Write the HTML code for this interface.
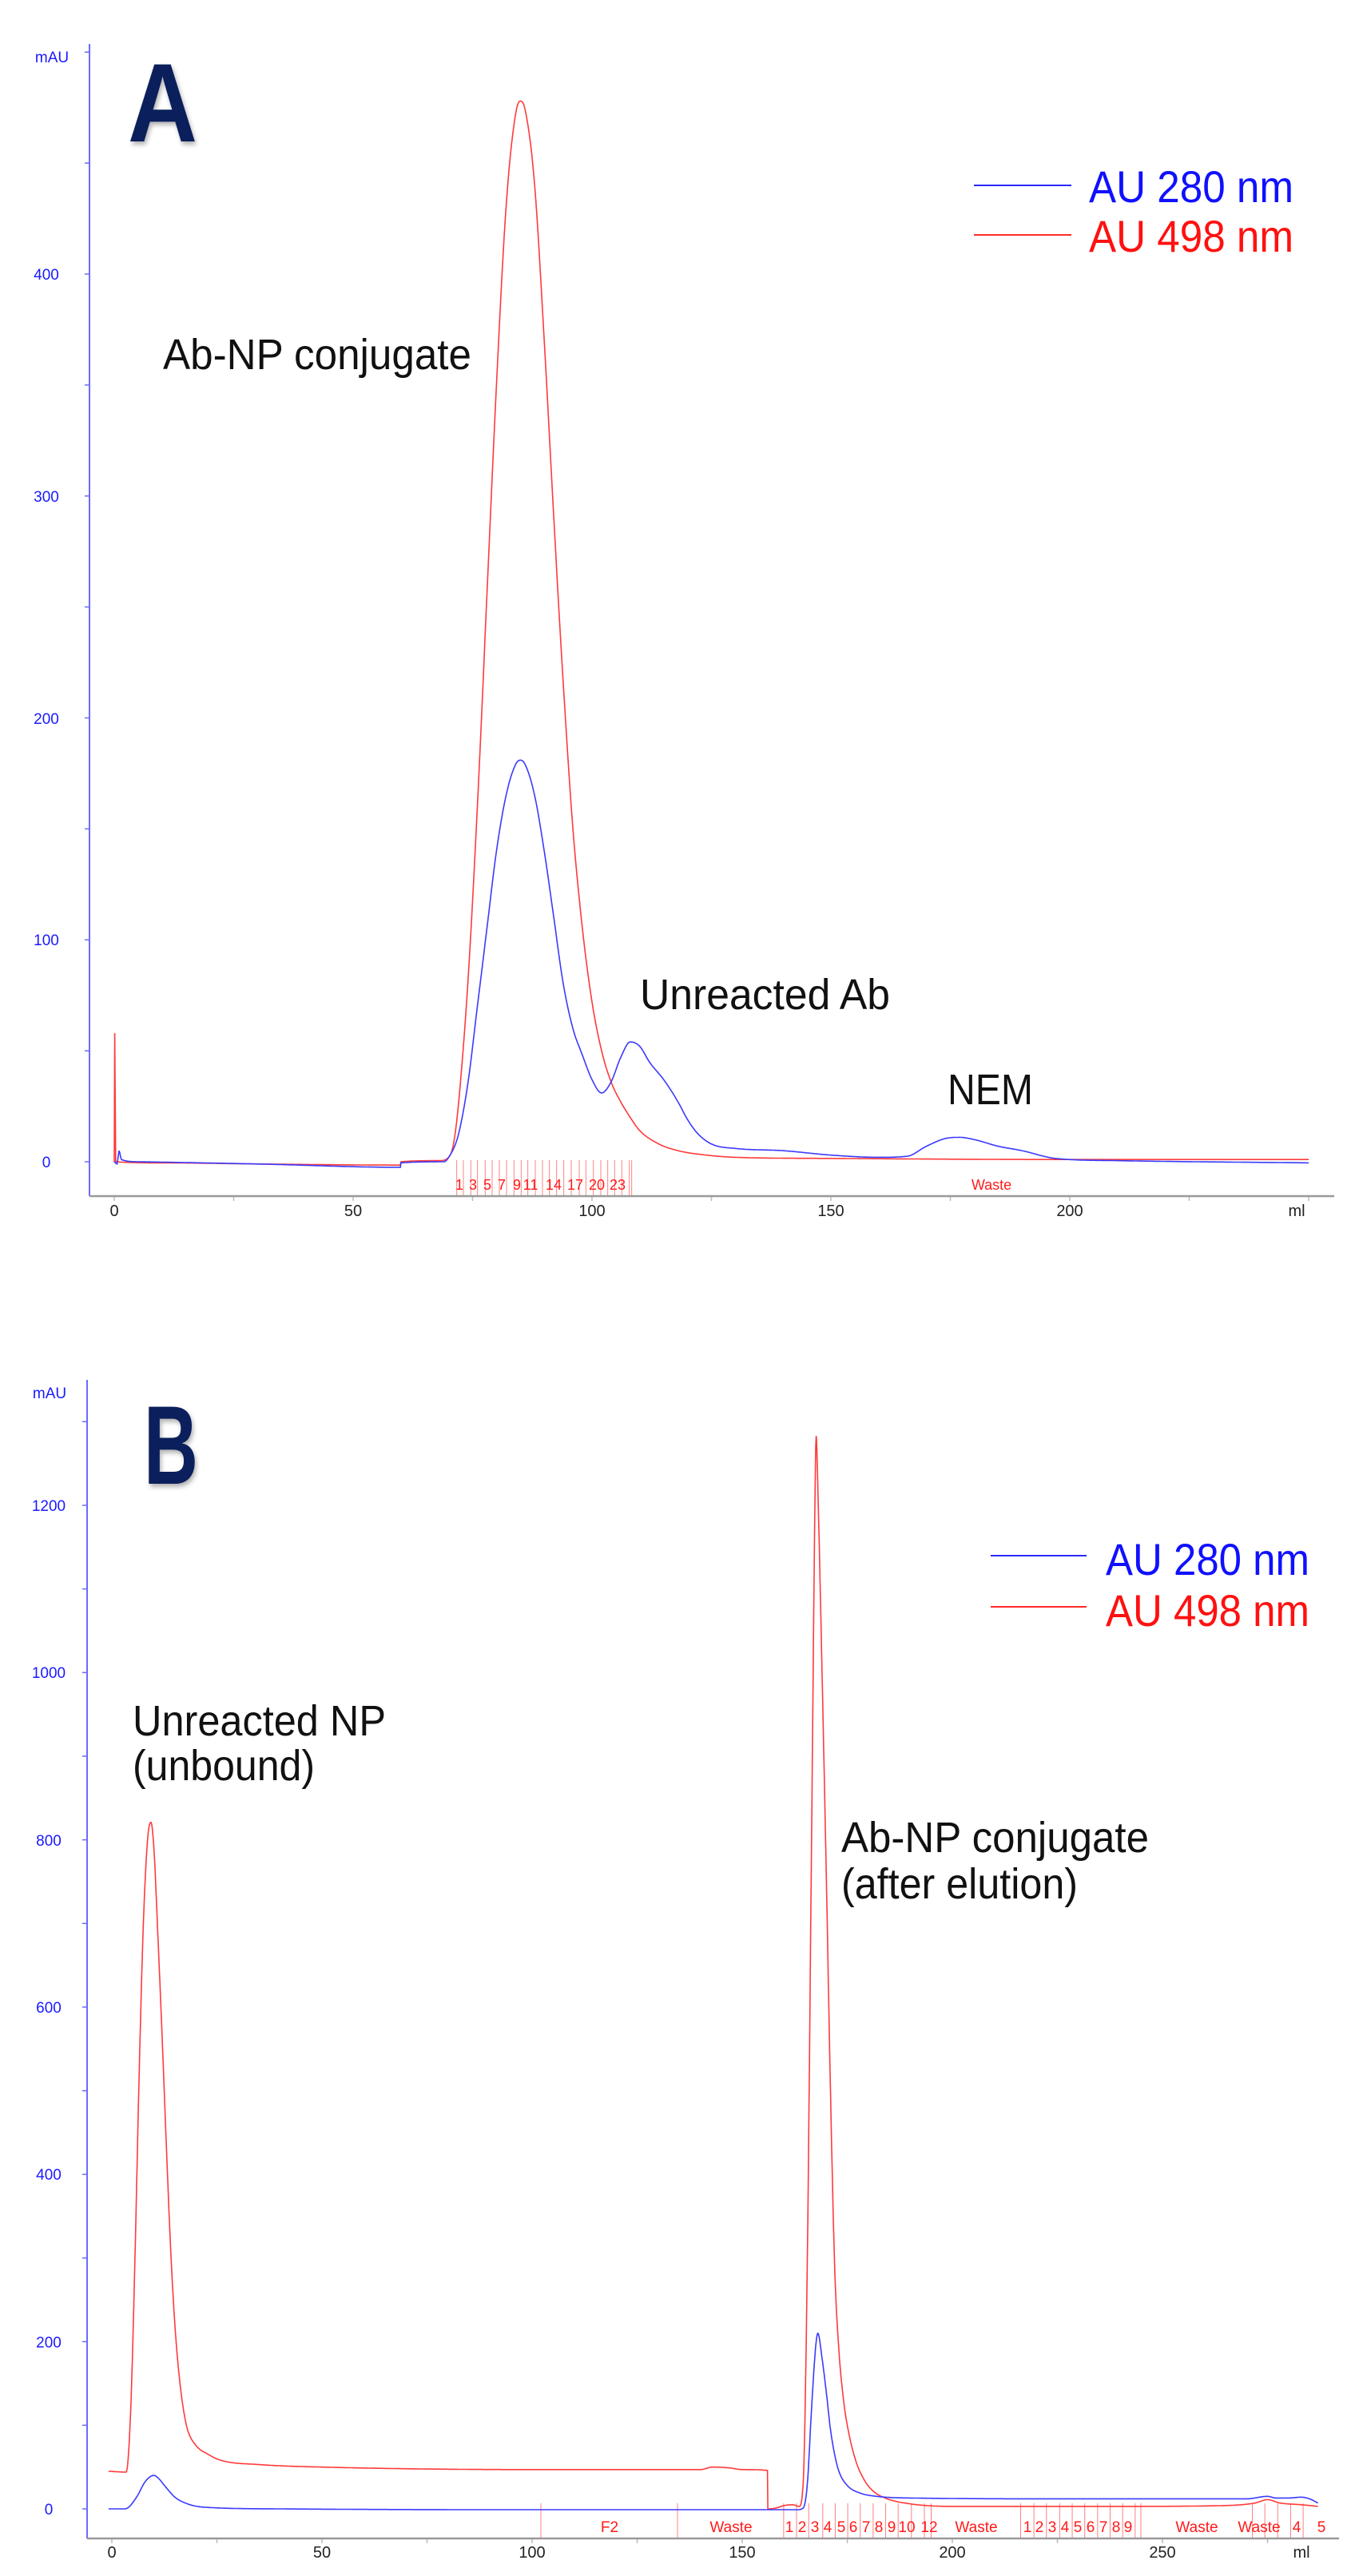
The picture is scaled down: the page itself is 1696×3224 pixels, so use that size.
<!DOCTYPE html>
<html><head><meta charset="utf-8">
<style>
html,body{margin:0;padding:0;background:#fff;}
svg{display:block;font-family:"Liberation Sans",Arial,sans-serif;}
</style></head>
<body>
<svg id="s" width="1696" height="3224" viewBox="0 0 1696 3224" xmlns="http://www.w3.org/2000/svg">
<rect width="1696" height="3224" fill="#fff"/>
<g id="g"></g>
<!-- Chart A static -->
<line x1="112" y1="55" x2="112" y2="1497" stroke="#6a6aff" stroke-width="2"/>
<line x1="112" y1="1497" x2="1670" y2="1497" stroke="#999" stroke-width="2.5"/>
<g fill="#1a1aff" font-size="19" text-anchor="middle">
<text x="65" y="78">mAU</text>
<text x="58" y="1461">0</text>
<text x="58" y="1183">100</text>
<text x="58" y="906">200</text>
<text x="58" y="628">300</text>
<text x="58" y="350">400</text>
</g>
<g fill="#222" font-size="20" text-anchor="middle">
<text x="143" y="1522">0</text>
<text x="442" y="1522">50</text>
<text x="741" y="1522">100</text>
<text x="1040" y="1522">150</text>
<text x="1339" y="1522">200</text>
<text x="1623" y="1522">ml</text>
</g>
<text x="160" y="177" font-size="140" font-weight="bold" fill="#0b1f5c" textLength="87" lengthAdjust="spacingAndGlyphs" style="filter:drop-shadow(2px 4px 3px rgba(0,0,0,0.3))">A</text>
<line x1="1219" y1="232" x2="1341" y2="232" stroke="#2a2aff" stroke-width="2"/>
<line x1="1219" y1="294" x2="1341" y2="294" stroke="#ff2a2a" stroke-width="2"/>
<text x="1363" y="253" font-size="56" fill="#1010ff" textLength="256" lengthAdjust="spacingAndGlyphs">AU 280 nm</text>
<text x="1363" y="315" font-size="56" fill="#ff1010" textLength="256" lengthAdjust="spacingAndGlyphs">AU 498 nm</text>
<g fill="#111" font-size="54">
<text x="204" y="462" textLength="386" lengthAdjust="spacingAndGlyphs">Ab-NP conjugate</text>
<text x="801" y="1263" textLength="313" lengthAdjust="spacingAndGlyphs">Unreacted Ab</text>
<text x="1186" y="1382" textLength="107" lengthAdjust="spacingAndGlyphs">NEM</text>
</g>
<g fill="#ff1a1a" font-size="18" text-anchor="middle">
<text x="575" y="1489">1</text><text x="592" y="1489">3</text><text x="610" y="1489">5</text>
<text x="628" y="1489">7</text><text x="647" y="1489">9</text><text x="664" y="1489">11</text>
<text x="693" y="1489">14</text><text x="720" y="1489">17</text><text x="747" y="1489">20</text>
<text x="773" y="1489">23</text><text x="1241" y="1489">Waste</text>
</g>
<!-- Chart B static -->
<line x1="109" y1="1727" x2="109" y2="3177" stroke="#6a6aff" stroke-width="2"/>
<line x1="109" y1="3177" x2="1676" y2="3177" stroke="#999" stroke-width="2.5"/>
<g fill="#1a1aff" font-size="19" text-anchor="middle">
<text x="62" y="1750">mAU</text>
<text x="61" y="3147">0</text>
<text x="61" y="2938">200</text>
<text x="61" y="2728">400</text>
<text x="61" y="2519">600</text>
<text x="61" y="2310">800</text>
<text x="61" y="2100">1000</text>
<text x="61" y="1891">1200</text>
</g>
<g fill="#222" font-size="20" text-anchor="middle">
<text x="140" y="3201">0</text>
<text x="403" y="3201">50</text>
<text x="666" y="3201">100</text>
<text x="929" y="3201">150</text>
<text x="1192" y="3201">200</text>
<text x="1455" y="3201">250</text>
<text x="1629" y="3201">ml</text>
</g>
<text x="180" y="1857" font-size="140" font-weight="bold" fill="#0b1f5c" textLength="68" lengthAdjust="spacingAndGlyphs" style="filter:drop-shadow(2px 4px 3px rgba(0,0,0,0.3))">B</text>
<line x1="1240" y1="1947" x2="1360" y2="1947" stroke="#2a2aff" stroke-width="2"/>
<line x1="1240" y1="2011" x2="1360" y2="2011" stroke="#ff2a2a" stroke-width="2"/>
<text x="1384" y="1971" font-size="56" fill="#1010ff" textLength="255" lengthAdjust="spacingAndGlyphs">AU 280 nm</text>
<text x="1384" y="2035" font-size="56" fill="#ff1010" textLength="255" lengthAdjust="spacingAndGlyphs">AU 498 nm</text>
<g fill="#111" font-size="54">
<text x="166" y="2172" textLength="317" lengthAdjust="spacingAndGlyphs">Unreacted NP</text>
<text x="166" y="2228" textLength="228" lengthAdjust="spacingAndGlyphs">(unbound)</text>
<text x="1053" y="2318" textLength="385" lengthAdjust="spacingAndGlyphs">Ab-NP conjugate</text>
<text x="1053" y="2376" textLength="296" lengthAdjust="spacingAndGlyphs">(after elution)</text>
</g>
<g fill="#ff1a1a" font-size="19" text-anchor="middle">
<text x="763" y="3169">F2</text><text x="915" y="3169">Waste</text>
<text x="988" y="3169">1</text><text x="1004" y="3169">2</text><text x="1020" y="3169">3</text>
<text x="1036" y="3169">4</text><text x="1053" y="3169">5</text><text x="1068" y="3169">6</text>
<text x="1084" y="3169">7</text><text x="1100" y="3169">8</text><text x="1116" y="3169">9</text>
<text x="1135" y="3169">10</text><text x="1163" y="3169">12</text><text x="1222" y="3169">Waste</text>
<text x="1286" y="3169">1</text><text x="1301" y="3169">2</text><text x="1317" y="3169">3</text>
<text x="1333" y="3169">4</text><text x="1349" y="3169">5</text><text x="1365" y="3169">6</text>
<text x="1381" y="3169">7</text><text x="1397" y="3169">8</text><text x="1412" y="3169">9</text>
<text x="1498" y="3169">Waste</text><text x="1576" y="3169">Waste</text>
<text x="1623" y="3169">4</text><text x="1654" y="3169">5</text>
</g>
</svg>
<script>
(function(){
var NS="http://www.w3.org/2000/svg",g=document.getElementById("g");
function el(t,a){var e=document.createElementNS(NS,t);for(var k in a)e.setAttribute(k,a[k]);g.appendChild(e);return e;}
function mono(pts,X,Y,step){
  var n=pts.length,xs=[],ys=[],i;
  for(i=0;i<n;i++){xs.push(pts[i][0]);ys.push(pts[i][1]);}
  var d=[],m=[];
  for(i=0;i<n-1;i++)d.push((ys[i+1]-ys[i])/(xs[i+1]-xs[i]));
  m[0]=d[0];m[n-1]=d[n-2];
  for(i=1;i<n-1;i++){ if(d[i-1]*d[i]<=0)m[i]=0; else m[i]=(d[i-1]+d[i])/2; }
  for(i=0;i<n-1;i++){ if(d[i]==0){m[i]=0;m[i+1]=0;continue;}
    var a=m[i]/d[i],b=m[i+1]/d[i],s=a*a+b*b; if(s>9){var t=3/Math.sqrt(s);m[i]=t*a*d[i];m[i+1]=t*b*d[i];}}
  var out=[];
  for(i=0;i<n-1;i++){
    var h=xs[i+1]-xs[i],k=Math.max(1,Math.ceil(h/step));
    for(var j=0;j<k;j++){var t=j/k,t2=t*t,t3=t2*t;
      var y=(2*t3-3*t2+1)*ys[i]+(t3-2*t2+t)*h*m[i]+(-2*t3+3*t2)*ys[i+1]+(t3-t2)*h*m[i+1];
      out.push(X(xs[i]+t*h).toFixed(1)+","+Y(y).toFixed(1));}
  }
  out.push(X(xs[n-1]).toFixed(1)+","+Y(ys[n-1]).toFixed(1));
  return out.join(" ");
}
var XA=function(v){return 143+v*5.98},YA=function(v){return 1454-v*2.7775};
for(var v=0;v<=500;v+=50){el("line",{x1:106,x2:112,y1:YA(v),y2:YA(v),stroke:"#6a6aff","stroke-width":1.5});}
for(var v=0;v<=250;v+=25){el("line",{x1:XA(v),x2:XA(v),y1:1497,y2:1503,stroke:"#bbb","stroke-width":1.5});}
[95,120,148,173,202,228,255,282,310,337,362,390,417,443,470,497,525,555,580,608,636,662,688,715,743,752].forEach(function(s){var x=540+s/3;el("line",{x1:x,x2:x,y1:1452,y2:1497,stroke:"#ff8080","stroke-width":1});});
var redA=[[0,0],[0.1,58],[0.3,0],[10,-0.5],[30,-1],[59.9,-1.5],[60,0],[68,0.5],[70,2],[71,8],[72,25],[74,80],[76,160],[78,255],[80,350],[82,430],[84,472],[85,478],[86,474],[88,440],[90,370],[92,290],[94,215],[96,150],[98,105],[100,72],[102,50],[104,36],[106,27],[108,20],[110,14],[114,8],[118,5],[124,3],[130,2],[150,1.5],[200,1],[250,1]];
var blueA=[[0,0],[0.6,-1],[1,5],[1.5,1],[5,0],[30,-1],[59.9,-2.5],[60,-0.5],[69,0],[70,2],[72,12],[74,35],[76,70],[78,105],[80,140],[82,165],[84,179],[85,181],[86,179],[88,165],[90,140],[92,110],[94,80],[96,60],[98,48],[100,37],[102,31],[104,36],[106,47],[108,54],[110,52],[112,45],[115,37],[118,27],[120,19],[122,13],[125,8],[130,6],[140,5],[150,3],[160,2],[166,2.5],[170,7],[174,10.5],[177,11],[180,10],[185,7],[190,5],[197,1.5],[210,0.5],[250,-0.5]];
el("polyline",{points:mono(redA,XA,YA,0.2),fill:"none",stroke:"#ff3a3a","stroke-width":1.6});
el("polyline",{points:mono(blueA,XA,YA,0.2),fill:"none",stroke:"#3a3aff","stroke-width":1.6});
var XB=function(v){return 140+v*5.26},YB=function(v){return 3140-v*1.0467};
for(var v=0;v<=1300;v+=100){el("line",{x1:103,x2:109,y1:YB(v),y2:YB(v),stroke:"#6a6aff","stroke-width":1.5});}
for(var v=0;v<=275;v+=25){el("line",{x1:XB(v),x2:XB(v),y1:3177,y2:3183,stroke:"#bbb","stroke-width":1.5});}
var tb=[677,848];
[44,78,110,147,180,213,246,280,313,346,381,415,433,669,704,737,772,805,838,872,905,938,971,986,1280,1313,1347,1381,1414].forEach(function(s){tb.push(960+s/2.107);});
tb.forEach(function(x){el("line",{x1:x,x2:x,y1:3133,y2:3177,stroke:"#ff8080","stroke-width":1});});
var redB=[[-0.8,45],[3.4,44],[4.5,120],[5.5,300],[6.5,520],[7.5,700],[8.5,800],[9.3,821],[10,790],[11,680],[12,560],[13,430],[14,310],[15,220],[16,160],[17,120],[18,95],[20,76],[23,65],[26,58],[35,53],[50,50],[100,47],[140,47],[143,50],[147,49],[150,47],[156,46],[156.1,0],[158,1],[160,4],[162,5],[163.5,3],[164.5,30],[165.5,300],[166.5,800],[167.3,1200],[167.6,1283],[168,1220],[169,1000],[170,760],[171,500],[172,290],[173,190],[174,135],[175,100],[177,58],[179,35],[181,22],[184,13],[190,6],[200,3],[220,3],[240,3],[265,4],[272,7],[275,11],[278,7],[283,5],[287,3]];
var blueB=[[-0.8,0],[3,0],[4,2],[6,15],[8,33],[10,40],[11,37],[13,25],[15,14],[18,6],[22,2],[40,0],[100,-1],[156,-1],[163,-1],[164.5,1],[165.5,30],[166.5,120],[167.5,195],[168,210],[169,180],[170,140],[171,95],[172,65],[173,45],[175,28],[178,19],[182,15],[190,13],[230,12],[270,12],[275,15],[277,13],[280,13],[283,14],[285,12],[287,7]];
el("polyline",{points:mono(redB,XB,YB,0.1),fill:"none",stroke:"#ff3a3a","stroke-width":1.6});
el("polyline",{points:mono(blueB,XB,YB,0.1),fill:"none",stroke:"#3a3aff","stroke-width":1.6});
})();
</script>
</body></html>
